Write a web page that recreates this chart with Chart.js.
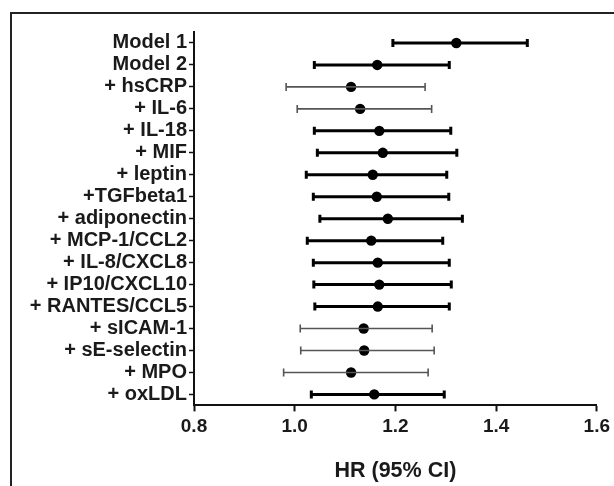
<!DOCTYPE html>
<html>
<head>
<meta charset="utf-8">
<script src="https://cdn.jsdelivr.net/npm/chart.js@4"></script>
<style>
  html, body { margin: 0; padding: 0; background: #fff; overflow: hidden; }
  #wrap { position: relative; width: 614px; height: 486px; }
  #frame { position: absolute; left: 10px; top: 12px; width: 700px; height: 600px;
           border-left: 2px solid #222; border-top: 2px solid #222; }
  #chart { position: absolute; left: 0; top: 0; }
</style>
</head>
<body>
<div id="wrap">
  <div id="frame"></div>
  <canvas id="chart" width="614" height="486"></canvas>
</div>
<script>
// Model rows, top to bottom
const labels = ['Model 1', 'Model 2', '+ hsCRP', '+ IL-6', '+ IL-18', '+ MIF', '+ leptin', '+TGFbeta1',
  '+ adiponectin', '+ MCP-1/CCL2', '+ IL-8/CXCL8', '+ IP10/CXCL10', '+ RANTES/CCL5', '+ sICAM-1',
  '+ sE-selectin', '+ MPO', '+ oxLDL'];
// hazard ratio and 95% CI
const hr    = [1.321, 1.164, 1.112, 1.130, 1.168, 1.175, 1.155, 1.163, 1.185, 1.152, 1.165, 1.168, 1.165, 1.137, 1.138, 1.112, 1.158];
const lower = [1.195, 1.039, 0.983, 1.005, 1.039, 1.045, 1.023, 1.037, 1.050, 1.025, 1.037, 1.038, 1.040, 1.011, 1.012, 0.978, 1.033];
const upper = [1.462, 1.307, 1.259, 1.272, 1.310, 1.322, 1.302, 1.306, 1.333, 1.294, 1.307, 1.311, 1.307, 1.273, 1.277, 1.265, 1.297];
// rows drawn with heavy bars (the others are thin grey)
const heavy = [true, true, false, false, true, true, true, true, true, true, true, true, true, false, false, false, true];
const xTicks = [0.8, 1.0, 1.2, 1.4, 1.6];

const FONT = "'Liberation Sans', Arial, Helvetica, sans-serif";

// one line dataset per CI, caps are rotated 'line' points
const ciSets = labels.map((lab, i) => {
  const col = heavy[i] ? '#000' : '#555';
  const w = heavy[i] ? 3 : 1.6;
  return {
    type: 'line',
    data: [{ x: lower[i], y: lab }, { x: upper[i], y: lab }],
    showLine: true,
    borderColor: col,
    borderWidth: w,
    pointStyle: 'line',
    pointRotation: 90,
    pointRadius: 4,
    pointBorderWidth: w,
    pointBorderColor: col,
    pointBackgroundColor: col,
    fill: false
  };
});

const dotSet = {
  type: 'scatter',
  data: labels.map((lab, i) => ({ x: hr[i], y: lab })),
  pointStyle: 'circle',
  pointRadius: 5.2,
  pointBackgroundColor: '#000',
  pointBorderColor: '#000',
  pointBorderWidth: 0
};

new Chart(document.getElementById('chart'), {
  type: 'scatter',
  data: { datasets: [...ciSets, dotSet] },
  options: {
    responsive: false,
    animation: false,
    events: [],
    layout: { padding: { top: 32, right: 5, bottom: 0, left: 0 } },
    plugins: { legend: { display: false }, tooltip: { enabled: false } },
    scales: {
      x: {
        type: 'linear',
        min: xTicks[0],
        max: xTicks[xTicks.length - 1],
        afterBuildTicks: (scale) => { scale.ticks = xTicks.map(v => ({ value: v })); },
        border: { display: true, color: '#111', width: 2 },
        grid: { drawOnChartArea: false, drawTicks: true, tickLength: 6, tickColor: '#111', tickWidth: 2 },
        ticks: {
          padding: 4,
          color: '#1a1a1a',
          font: { family: FONT, size: 19, weight: 'bold' },
          callback: (v) => Number(v).toFixed(1)
        },
        title: {
          display: true,
          text: 'HR (95% CI)',
          color: '#1a1a1a',
          font: { family: FONT, size: 21.5, weight: 'bold' },
          padding: { top: 16, bottom: 2 }
        }
      },
      y: {
        type: 'category',
        labels: labels,
        offset: true,
        afterFit: (scale) => { scale.width = 194; },
        border: { display: true, color: '#111', width: 2 },
        grid: { drawOnChartArea: false, drawTicks: true, tickLength: 5, tickColor: '#111', tickWidth: 1.5 },
        ticks: {
          autoSkip: false,
          padding: 2,
          color: '#1a1a1a',
          font: { family: FONT, size: 20, weight: 'bold' }
        }
      }
    }
  }
});
</script>
</body>
</html>
